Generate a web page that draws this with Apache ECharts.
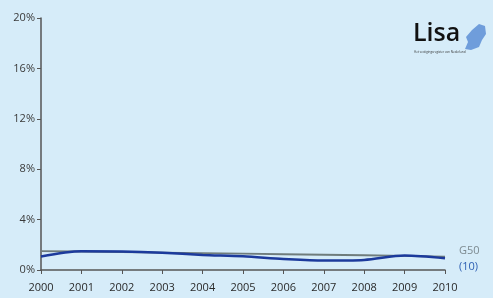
<!DOCTYPE html>
<html>
<head>
<meta charset="UTF-8">
<title></title>
<style>
  * { margin: 0; padding: 0; }
  body { background: #d6ecf9; }
  #main { width: 493px; height: 298px; }
</style>
<script src="https://cdn.jsdelivr.net/npm/echarts@6/dist/echarts.min.js"></script>
</head>
<body>
<div id="main"></div>
<script>
var years = ['2000', '2001', '2002', '2003', '2004', '2005', '2006', '2007', '2008', '2009', '2010'];
var g50 = [1.5, 1.47, 1.43, 1.38, 1.34, 1.3, 1.25, 1.21, 1.17, 1.12, 1.05];
var region10 = [1.07, 1.49, 1.46, 1.36, 1.2, 1.09, 0.88, 0.75, 0.8, 1.15, 0.93];
var yTicks = [0, 4, 8, 12, 16, 20];

var chart = echarts.init(document.getElementById('main'));
chart.setOption({
  backgroundColor: '#d6ecf9',
  animation: false,
  grid: { left: 41, right: 48, top: 18, bottom: 28 },
  xAxis: {
    type: 'category',
    data: years,
    boundaryGap: false,
    axisLine: { lineStyle: { color: '#555', width: 1.5 } },
    axisTick: { length: 4, lineStyle: { color: '#555' } },
    axisLabel: { color: '#2a2a2a', fontSize: 11, fontFamily: 'Open Sans', margin: 12 }
  },
  yAxis: {
    type: 'value',
    min: yTicks[0],
    max: yTicks[yTicks.length - 1],
    interval: 4,
    axisLine: { show: true, lineStyle: { color: '#555', width: 1.5 } },
    axisTick: { show: true, length: 4, lineStyle: { color: '#555' } },
    splitLine: { show: false },
    axisLabel: { color: '#3a3a3a', fontSize: 11, fontFamily: 'Open Sans', margin: 6, formatter: '{value}%' }
  },
  series: [
    {
      name: 'G50',
      type: 'line',
      data: g50,
      symbol: 'none',
      lineStyle: { color: '#6f7c7c', width: 1.8 },
      endLabel: { show: true, formatter: 'G50', color: '#7d8a90', fontSize: 11, fontFamily: 'Open Sans', offset: [6, -6] }
    },
    {
      name: '(10)',
      type: 'line',
      data: region10,
      smooth: 0.3,
      symbol: 'none',
      lineStyle: { color: '#1c3a9c', width: 2.5 },
      endLabel: { show: true, formatter: '(10)', color: '#2d5fb3', fontSize: 11, fontFamily: 'Open Sans', offset: [6, 9] }
    }
  ],
  graphic: [
    {
      type: 'text', left: 413, top: 21,
      style: { text: 'Lisa', fill: '#111', font: '600 25px "Open Sans"' }
    },
    {
      type: 'text', left: 414, top: 51,
      style: { text: 'Het vestigingsregister van Nederland', fill: '#333', font: '3px "Open Sans"' }
    },
    {
      type: 'polygon',
      shape: { points: [[472, 30], [479, 24], [485, 26], [486, 34], [482, 40], [479, 47], [471, 50], [465, 49], [468, 42], [466, 37]] },
      style: { fill: '#5d8fd6', opacity: 0.85 }
    }
  ]
});
</script>
</body>
</html>
